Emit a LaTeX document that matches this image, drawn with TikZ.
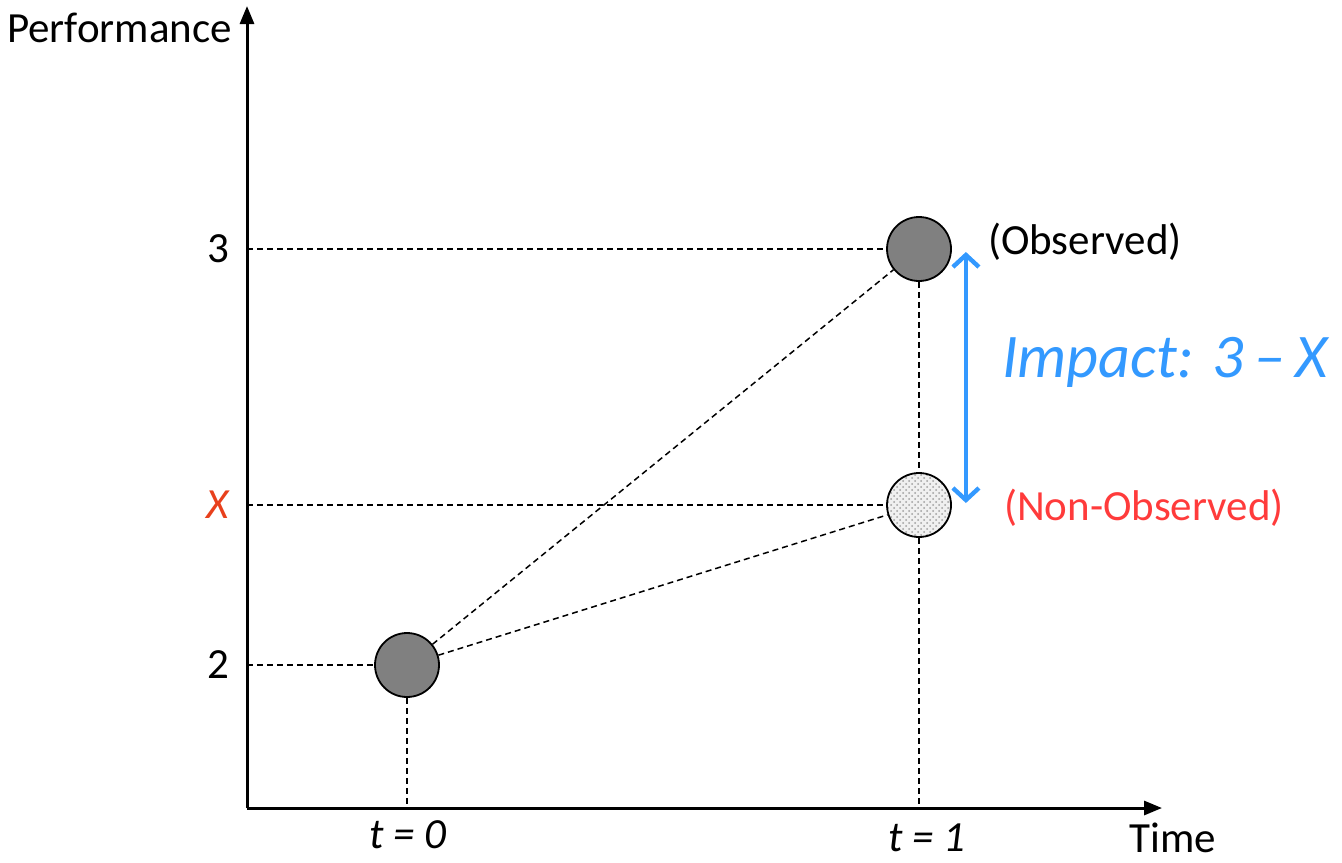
\documentclass[tikz,border=0pt]{standalone}
\usepackage{fontspec}
\setmainfont{Carlito}
\usepackage{tikz}
\usetikzlibrary{positioning,arrows.meta,patterns}

\definecolor{impactblue}{HTML}{3399FF}
\definecolor{nobsred}{HTML}{FF3B3B}
\definecolor{xred}{HTML}{E8401C}

\begin{document}
\begin{tikzpicture}[x=0.5pt, y=-0.5pt,
    every node/.style={font=\fontsize{21.5}{25}\selectfont},
    axis/.style={line width=1.5pt, -{Triangle[length=9pt,width=7pt]}},
    guide/.style={dash pattern=on 3pt off 2pt, line width=0.75pt},
    point/.style={draw, circle, line width=0.9pt, minimum size=32pt, inner sep=0pt, fill=gray},
    ghost/.style={point, fill=none, preaction={fill=gray!12}, pattern=crosshatch dots, pattern color=gray!75},
    impact/.style={impactblue, line width=2.2pt, {Straight Barb[length=6pt,width=13pt]}-{Straight Barb[length=6pt,width=13pt]}}]
        \useasboundingbox (0,0) rectangle (1342,862);

        % Axes
        \coordinate (origin) at (247,808);
        \draw[axis] (origin) -- (247,6);
        \draw[axis] (origin) -- (1162,808);
        \node (perf) [anchor=east] at (239,28) {Performance};
        \node (time) [inner sep=1pt] at (1173,838) {Time};

        % Measured and counterfactual points
        \node (t0) [point] at (407,665) {};
        \node (obs) [point] at (919,249) {};
        \node (nobs) [ghost] at (919,505) {};

        % Level labels
        \node (three) [anchor=east] at (236,249) {3};
        \node (xlvl) [anchor=east, text=xred] at (236,505) {\itshape X};
        \node (two) [anchor=east] at (236,665) {2};

        % Time labels
        \node (tzero) at (408,835) {\itshape t = 0};
        \node (tone) [inner sep=1pt] at (927,838) {\itshape t = 1};

        % Dashed projections onto the axes
        \draw[guide] (origin |- obs) -- (obs);
        \draw[guide] (origin |- nobs) -- (nobs);
        \draw[guide] (origin |- t0) -- (t0);
        \draw[guide] (t0) -- (t0 |- origin);
        \draw[guide] (obs) -- (nobs);
        \draw[guide] (nobs) -- (nobs |- origin);

        % Trajectories from t = 0
        \draw[guide] (t0) -- (obs);
        \draw[guide] (t0) -- (nobs);

        % Impact between observed and non-observed
        \draw[impact] ([xshift=7pt,yshift=-1.5pt]obs.east) -- ([xshift=7pt,yshift=1pt]nobs.east);
        \node (obslbl) [anchor=west] at (981,242) {(Observed)};
        \node (nobslbl) [anchor=west, text=nobsred] at (997,508) {(Non-Observed)};
        \node (implbl) [anchor=west, text=impactblue, font=\fontsize{31}{36}\selectfont\itshape] at (995,362) {Impact: 3\,–\,X};
\end{tikzpicture}
\end{document}
